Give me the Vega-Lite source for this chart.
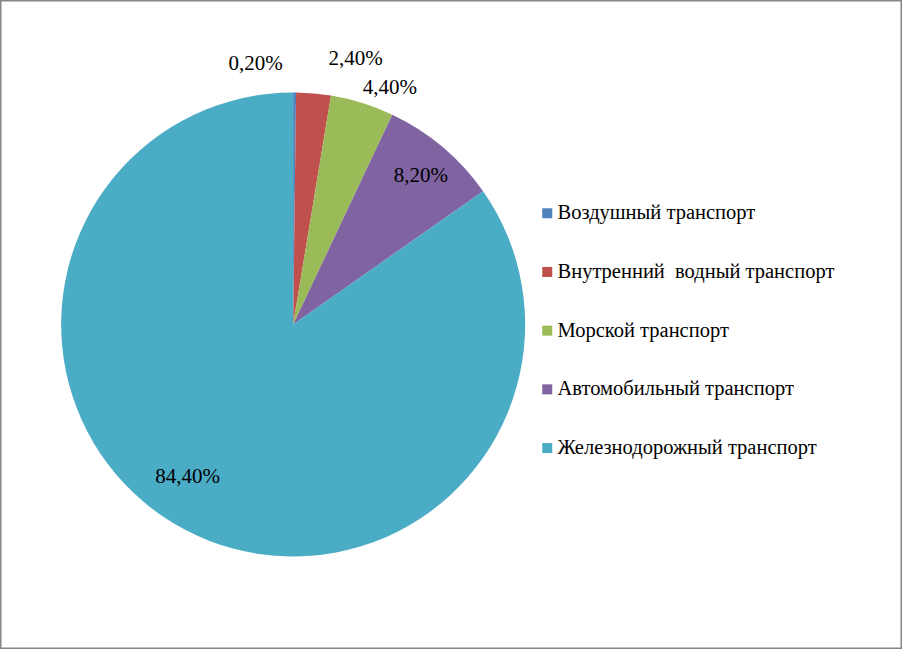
{
  "$schema": "https://vega.github.io/schema/vega-lite/v6.json",
  "width": 902,
  "height": 649,
  "autosize": {"type": "none"},
  "padding": 0,
  "background": "white",
  "config": {
    "view": {"stroke": "#868686", "strokeWidth": 3},
    "font": "Liberation Serif",
    "legend": {
      "orient": "none",
      "legendX": 537,
      "legendY": 203,
      "padding": 0,
      "symbolType": "square",
      "symbolSize": 100,
      "symbolStrokeWidth": 0,
      "symbolOpacity": 1,
      "labelFont": "Liberation Serif",
      "labelFontSize": 20.5,
      "labelColor": "#000000",
      "labelOffset": 0,
      "labelLimit": 400,
      "rowPadding": 37.7
    }
  },
  "data": {
    "values": [
      {"name": "Воздушный транспорт", "value": 0.2, "label": "0,20%"},
      {"name": "Внутренний\u00a0 водный транспорт", "value": 2.4, "label": "2,40%"},
      {"name": "Морской транспорт", "value": 4.4, "label": "4,40%"},
      {"name": "Автомобильный транспорт", "value": 8.2, "label": "8,20%"},
      {"name": "Железнодорожный транспорт", "value": 84.4, "label": "84,40%"}
    ]
  },
  "encoding": {
    "theta": {"field": "value", "type": "quantitative", "stack": true},
    "order": {"field": "value", "type": "quantitative", "sort": "ascending"},
    "x": {"datum": 0.325, "type": "quantitative", "scale": {"domain": [0, 1]}, "axis": null}
  },
  "layer": [
    {
      "mark": {"type": "arc", "radius": 232},
      "encoding": {
        "color": {
          "field": "name",
          "type": "nominal",
          "scale": {
            "domain": ["Воздушный транспорт", "Внутренний\u00a0 водный транспорт", "Морской транспорт", "Автомобильный транспорт", "Железнодорожный транспорт"],
            "range": ["#4F81BD", "#C0504D", "#9BBB59", "#8064A2", "#4BACC6"]
          },
          "legend": {"title": null}
        }
      }
    },
    {
      "mark": {"type": "text", "radius": 195, "fontSize": 21, "font": "Liberation Serif", "color": "#000000", "dx": 2, "dy": 1},
      "encoding": {
        "detail": {"field": "name", "type": "nominal"},
        "text": {"condition": {"test": "datum.value === 8.2", "field": "label"}, "value": ""}
      }
    },
    {
      "mark": {"type": "text", "radius": 190, "fontSize": 21, "font": "Liberation Serif", "color": "#000000", "dx": -18, "dy": -16},
      "encoding": {
        "detail": {"field": "name", "type": "nominal"},
        "text": {"condition": {"test": "datum.value === 84.4", "field": "label"}, "value": ""}
      }
    },
    {
      "mark": {"type": "text", "radius": 254, "fontSize": 21, "font": "Liberation Serif", "color": "#000000", "dx": 21, "dy": 6},
      "encoding": {
        "detail": {"field": "name", "type": "nominal"},
        "text": {"condition": {"test": "datum.value === 4.4", "field": "label"}, "value": ""}
      }
    },
    {
      "mark": {"type": "text", "radius": 260, "fontSize": 21, "font": "Liberation Serif", "color": "#000000", "align": "right", "dx": -12, "dy": -1},
      "encoding": {
        "detail": {"field": "name", "type": "nominal"},
        "text": {"condition": {"test": "datum.value === 0.2", "field": "label"}, "value": ""}
      }
    },
    {
      "mark": {"type": "text", "radius": 265, "fontSize": 21, "font": "Liberation Serif", "color": "#000000", "align": "left", "dx": 12, "dy": -2},
      "encoding": {
        "detail": {"field": "name", "type": "nominal"},
        "text": {"condition": {"test": "datum.value === 2.4", "field": "label"}, "value": ""}
      }
    }
  ]
}
